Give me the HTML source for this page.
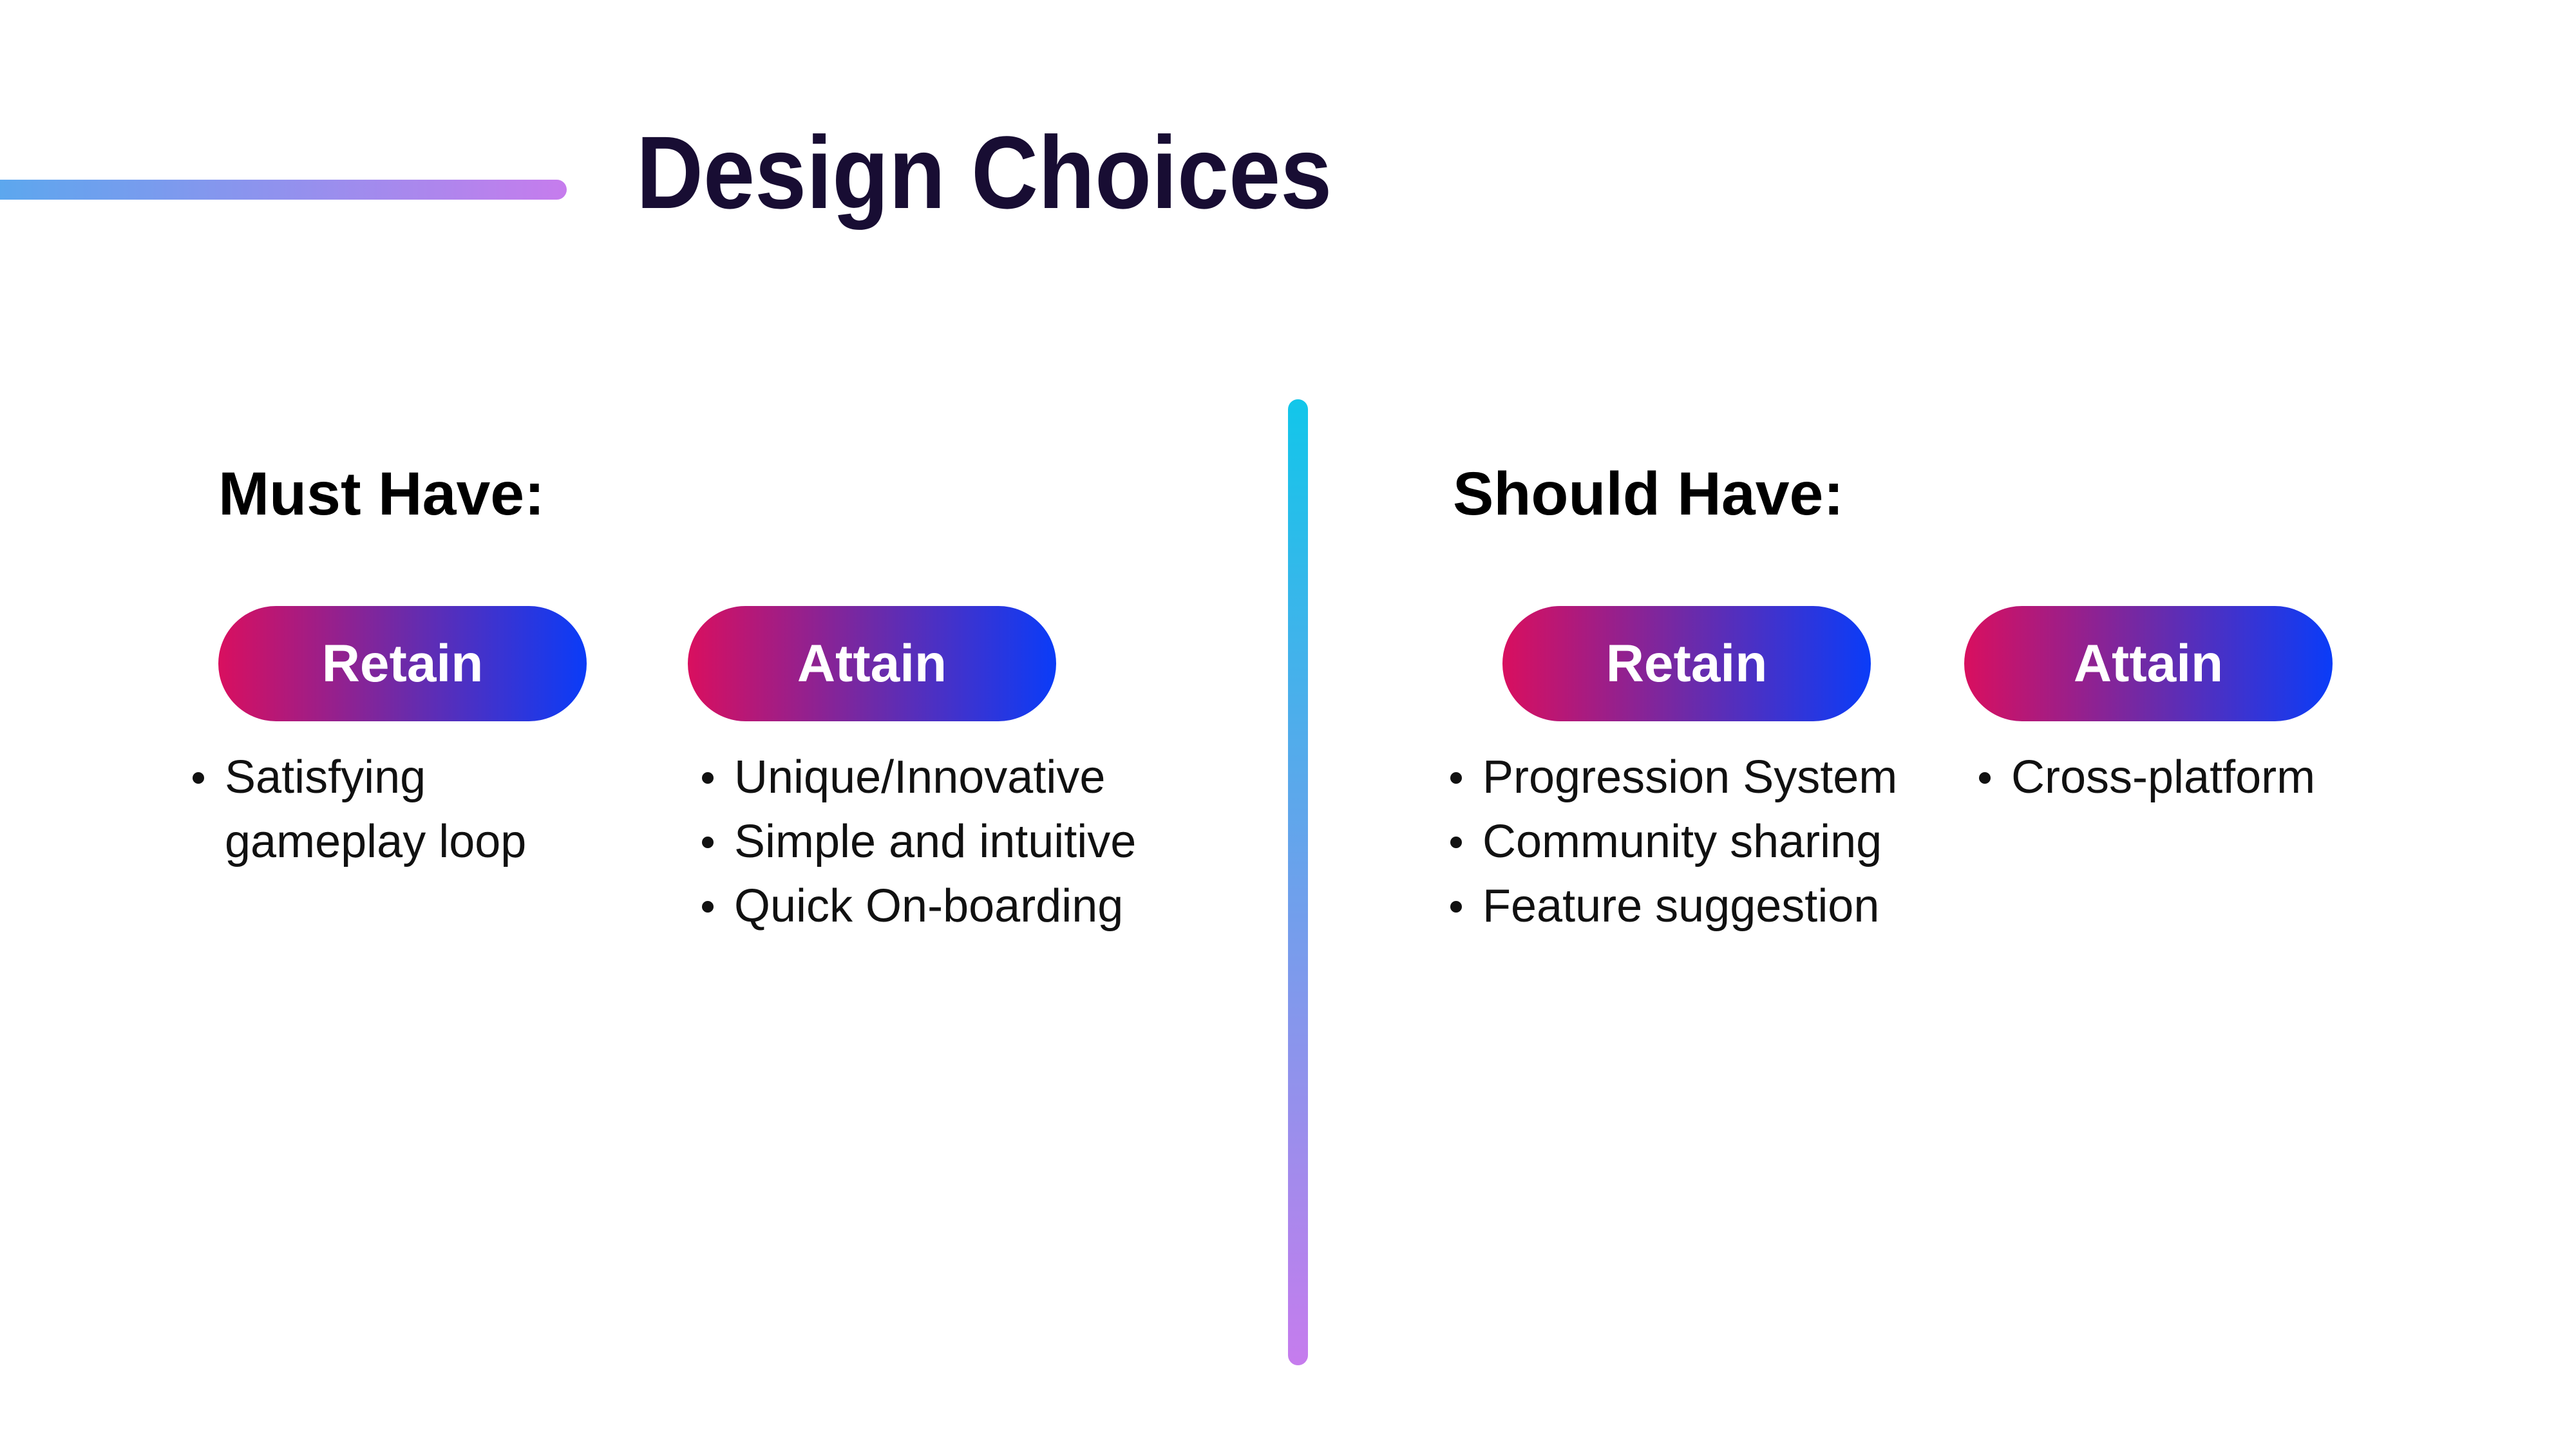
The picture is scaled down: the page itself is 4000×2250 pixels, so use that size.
<!DOCTYPE html>
<html><head><meta charset="utf-8"><style>
html,body{margin:0;padding:0}
body{width:4000px;height:2250px;position:relative;background:#fff;overflow:hidden;font-family:"Liberation Sans",Arial,sans-serif}
.a{position:absolute}
.hline{left:-20px;top:279px;width:900px;height:31px;border-radius:16px;background:linear-gradient(90deg,#5aa8ee,#c67ced)}
.vline{left:2000px;top:620px;width:31px;height:1500px;border-radius:16px;background:linear-gradient(180deg,#12c6ea,#c67ced)}
.title{left:988px;top:188px;font-size:160px;font-weight:bold;color:#180d33;line-height:1;transform:scaleX(0.9);transform-origin:0 0;white-space:nowrap}
.h2{font-size:95px;font-weight:bold;color:#000;line-height:1;top:720px;white-space:nowrap}
.pill{top:941px;width:572px;height:179px;border-radius:90px;background:linear-gradient(90deg,#d90f5f,#6e2aa8 50%,#0a3cf8);color:#fff;font-weight:bold;font-size:82px;display:flex;align-items:center;justify-content:center}
ul{position:absolute;margin:0;padding:0;list-style:none;font-size:72px;color:#111;line-height:100px;top:1157px;white-space:nowrap}
li{position:relative;padding-left:50px}
li:before{content:"";position:absolute;left:0;top:42px;width:18px;height:18px;border-radius:50%;background:#111}
li.c:before{display:none}
</style></head><body>
<div class="a hline"></div>
<div class="a title">Design Choices</div>
<div class="a vline"></div>
<div class="a h2" style="left:339px">Must Have:</div>
<div class="a h2" style="left:2256px">Should Have:</div>
<div class="a pill" style="left:339px">Retain</div>
<div class="a pill" style="left:1068px">Attain</div>
<div class="a pill" style="left:2333px">Retain</div>
<div class="a pill" style="left:3050px">Attain</div>
<ul style="left:299px"><li>Satisfying</li><li class="c">gameplay loop</li></ul>
<ul style="left:1090px"><li>Unique/Innovative</li><li>Simple and intuitive</li><li>Quick On-boarding</li></ul>
<ul style="left:2252px"><li>Progression System</li><li>Community sharing</li><li>Feature suggestion</li></ul>
<ul style="left:3073px"><li>Cross-platform</li></ul>
</body></html>
